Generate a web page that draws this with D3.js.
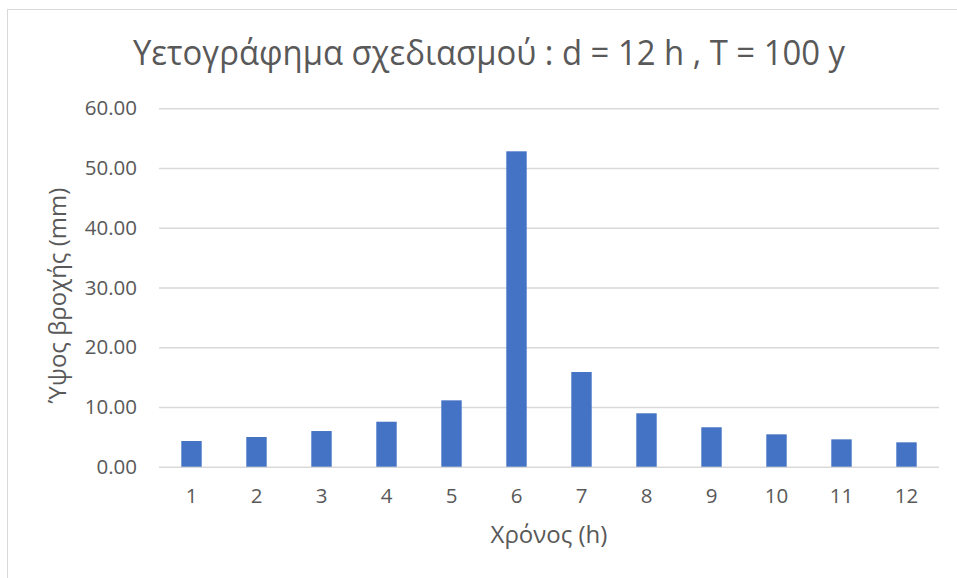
<!DOCTYPE html>
<html>
<head>
<meta charset="utf-8">
<script src="https://cdn.jsdelivr.net/npm/d3@7"></script>
<style>
  html, body { margin: 0; padding: 0; background: #fff; }
  svg { display: block; }
  text { font-family: "Open Sans", "Noto Sans", sans-serif; fill: #595959; }
</style>
</head>
<body>
<svg id="chart" width="957" height="578"></svg>
<script>
// Design hyetograph, 12-hour storm, return period 100 years
const hours = ["1", "2", "3", "4", "5", "6", "7", "8", "9", "10", "11", "12"];
const rainfall = [4.30, 4.97, 5.97, 7.53, 11.11, 52.80, 15.85, 8.94, 6.60, 5.42, 4.58, 4.08];
const yTicks = [0, 10, 20, 30, 40, 50, 60];

const titleText = "Υετογράφημα σχεδιασμού : d = 12 h , T = 100 y";
const xTitle = "Χρόνος (h)";
const yTitle = "Ύψος βροχής (mm)";

const svg = d3.select("#chart");
const W = 957, H = 578;

// Chart frame
svg.append("rect")
  .attr("x", 7.5).attr("y", 9.5)
  .attr("width", W + 10).attr("height", H + 10)
  .attr("fill", "#fff")
  .attr("stroke", "#d9d9d9").attr("stroke-width", 1);

const plot = { left: 159, right: 939, top: 108.3, bottom: 466.7 };

const x = d3.scaleBand()
  .domain(hours)
  .range([plot.left, plot.right])
  .paddingInner(0.686)
  .paddingOuter(0.343);

const y = d3.scaleLinear()
  .domain([0, 60])
  .range([plot.bottom, plot.top]);

// Horizontal gridlines
const yAxis = d3.axisLeft(y)
  .tickValues(yTicks)
  .tickSize(-(plot.right - plot.left))
  .tickPadding(22)
  .tickFormat(d3.format(".2f"));

const gy = svg.append("g")
  .attr("transform", `translate(${plot.left},0)`)
  .call(yAxis);
gy.select(".domain").remove();
gy.selectAll(".tick line")
  .attr("stroke", "#d9d9d9").attr("stroke-width", 1.5);
gy.selectAll(".tick text")
  .attr("font-size", 20.5)
  .attr("fill", "#595959")
  .attr("font-family", "Open Sans, Noto Sans, sans-serif");

// Bars
svg.append("g")
  .selectAll("rect")
  .data(rainfall)
  .join("rect")
  .attr("x", (d, i) => x(hours[i]))
  .attr("y", d => y(d))
  .attr("width", x.bandwidth())
  .attr("height", d => y(0) - y(d))
  .attr("fill", "#4472c4");

// Category axis labels
const xAxis = d3.axisBottom(x).tickSize(0).tickPadding(22);
const gx = svg.append("g")
  .attr("transform", `translate(0,${plot.bottom})`)
  .call(xAxis);
gx.select(".domain").remove();
gx.selectAll(".tick text")
  .attr("font-size", 20.5)
  .attr("fill", "#595959")
  .attr("font-family", "Open Sans, Noto Sans, sans-serif");

// Chart title
svg.append("text")
  .attr("x", 489).attr("y", 65)
  .attr("text-anchor", "middle")
  .attr("font-size", 35)
  .attr("textLength", 712)
  .attr("lengthAdjust", "spacingAndGlyphs")
  .text(titleText);

// Axis titles
svg.append("text")
  .attr("x", (plot.left + plot.right) / 2).attr("y", 543)
  .attr("text-anchor", "middle")
  .attr("font-size", 24)
  .text(xTitle);

svg.append("text")
  .attr("transform", `translate(66,${(plot.top + plot.bottom) / 2 + 8}) rotate(-90)`)
  .attr("text-anchor", "middle")
  .attr("font-size", 24)
  .text(yTitle);
</script>
</body>
</html>
